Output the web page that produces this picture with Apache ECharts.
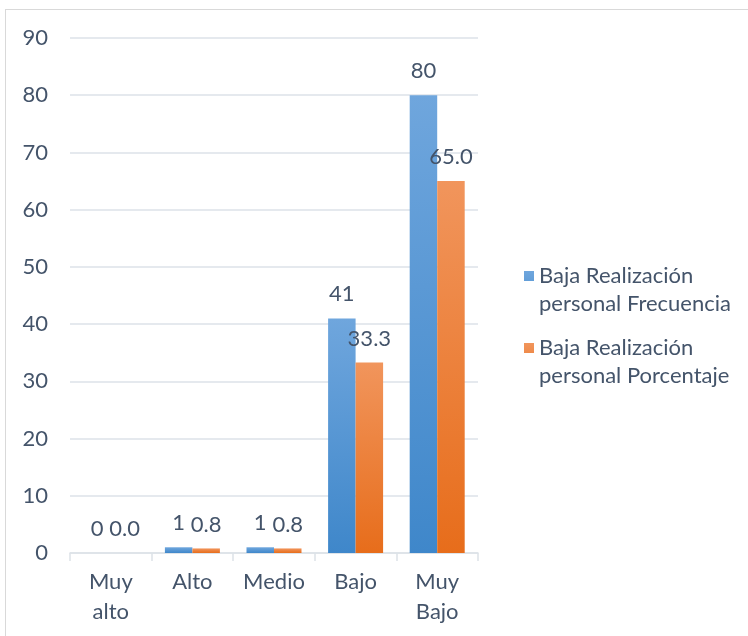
<!DOCTYPE html>
<html>
<head>
<meta charset="utf-8">
<script src="https://cdn.jsdelivr.net/npm/echarts@6/dist/echarts.min.js"></script>
<style>
  html, body { margin: 0; padding: 0; background: #ffffff; }
  #frame { position: absolute; left: 5px; top: 9px; width: 760px; height: 640px;
           border-top: 1.5px solid #d9d9d9; border-left: 1.5px solid #d9d9d9; }
  #chart { position: absolute; left: 0; top: 0; width: 748px; height: 636px; }
</style>
</head>
<body>
<div id="frame"></div>
<div id="chart"></div>
<script>
// Levels of personal accomplishment
const categories = ['Muy\nalto', 'Alto', 'Medio', 'Bajo', 'Muy\nBajo'];
const frecuencia = [0, 1, 1, 41, 80];
const porcentaje = [0.0, 0.8, 0.8, 33.3, 65.0];
const seriesNames = ['Baja Realización\npersonal Frecuencia', 'Baja Realización\npersonal Porcentaje'];
const yTicks = { min: 0, max: 90, interval: 10 };

const FONT = 'Lato';
const FS = 22;
const TEXT = '#44546a';
const GRID = '#dde2e8';

function grad(top, bottom) {
  return new echarts.graphic.LinearGradient(0, 0, 0, 1, [
    { offset: 0, color: top },
    { offset: 1, color: bottom }
  ]);
}

// legend marker: 10x10 square at the top of a 10x38 box, so it sits beside the first text line
const topSquare = 'path://M0,0h10v10h-10zM0,38';

const chart = echarts.init(document.getElementById('chart'), null, { renderer: 'canvas' });
chart.setOption({
  animation: false,
  textStyle: { fontFamily: FONT },
  grid: { left: 70, right: 270, top: 38, bottom: 83, containLabel: false },
  legend: {
    orient: 'vertical',
    left: 519,
    top: 257,
    itemWidth: 10,
    itemHeight: 38,
    itemGap: 16,
    icon: topSquare,
    textStyle: { color: TEXT, fontSize: FS, lineHeight: 28, fontFamily: FONT },
    data: seriesNames
  },
  xAxis: {
    type: 'category',
    data: categories,
    axisLine: { show: true, lineStyle: { color: GRID, width: 1.5 } },
    axisTick: { show: true, length: 8, alignWithLabel: false, lineStyle: { color: GRID, width: 1.5 } },
    axisLabel: { color: TEXT, fontSize: FS, lineHeight: 30, margin: 14, fontFamily: FONT, interval: 0 }
  },
  yAxis: {
    type: 'value',
    min: yTicks.min,
    max: yTicks.max,
    interval: yTicks.interval,
    axisLine: { show: false },
    axisTick: { show: false },
    axisLabel: { color: TEXT, fontSize: FS, margin: 22, fontFamily: FONT },
    splitLine: { lineStyle: { color: GRID, width: 1.5 } }
  },
  series: [
    {
      name: seriesNames[0],
      type: 'bar',
      data: frecuencia,
      barWidth: 27.5,
      barGap: '0%',
      itemStyle: { color: grad('#6fa6dd', '#3f87ca') },
      label: {
        show: true, position: 'top', distance: 13,
        color: TEXT, fontSize: FS, fontFamily: FONT,
        formatter: p => String(p.value)
      }
    },
    {
      name: seriesNames[1],
      type: 'bar',
      data: porcentaje,
      barWidth: 27.5,
      itemStyle: { color: grad('#f1955c', '#e76d1b') },
      label: {
        show: true, position: 'top', distance: 13,
        color: TEXT, fontSize: FS, fontFamily: FONT,
        formatter: p => p.value.toFixed(1)
      }
    }
  ]
});
</script>
</body>
</html>
